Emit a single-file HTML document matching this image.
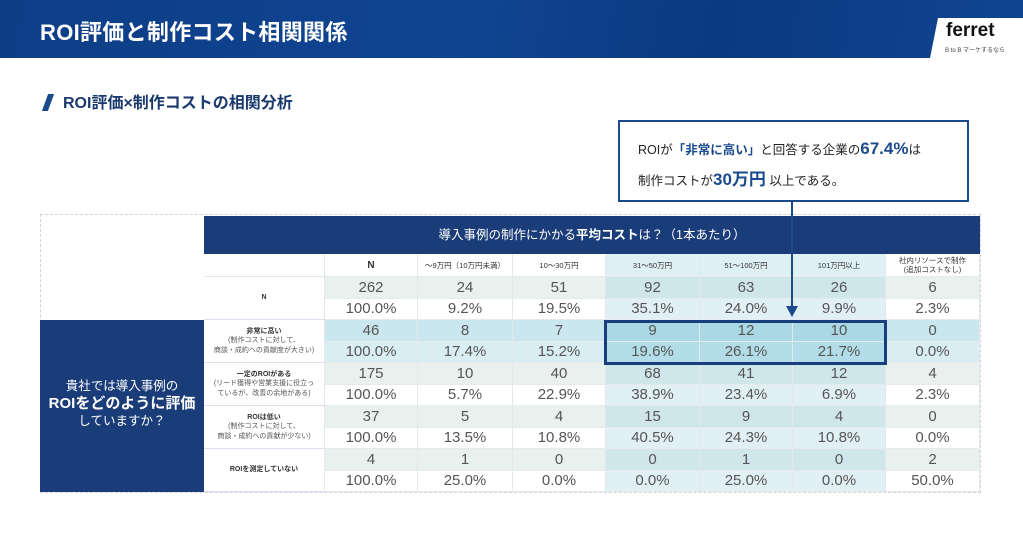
<!DOCTYPE html>
<html><head><meta charset="utf-8"><style>
*{margin:0;padding:0;box-sizing:border-box}
body{width:1023px;height:553px;background:#fff;position:relative;overflow:hidden;font-family:"Liberation Sans","Noto Sans CJK JP",sans-serif}
.hdr{position:absolute;left:0;top:0;width:1023px;height:58px;background:linear-gradient(100deg,#0e3d86 0%,#0f4592 45%,#0b3a80 70%,#0f4592 100%)}
.hdr h1{position:absolute;left:40px;top:15px;color:#fff;font-size:22px;font-weight:bold;letter-spacing:0.3px}
.logo{position:absolute;left:930px;top:18px;width:93px;height:40px;background:#fff;clip-path:polygon(8px 0,100% 0,100% 100%,0 100%)}
.logo b{position:absolute;left:16px;top:2px;font-size:19px;color:#111}
.logo i{position:absolute;left:15px;top:27px;font-size:6px;color:#444;font-style:normal}
.sub{position:absolute;left:45px;top:89px;font-size:16px;font-weight:bold;color:#1a3a6e}
.sub span{display:inline-block;width:6px;height:17px;background:#1a4a8c;transform:skewX(-20deg);margin-right:12px;vertical-align:-3px}
.call{position:absolute;left:618px;top:120px;width:351px;height:82px;border:2px solid #1a4a8c;background:#fff;font-size:12.5px;color:#222;padding:12px 0 0 18px;line-height:29px}
.call b{color:#1a4a8c}
.big{font-size:17px}
.arrow{position:absolute;left:791px;top:202px;width:2px;height:108px;background:#1a4a8c;z-index:5}
.ahead{position:absolute;left:786px;top:306px;width:0;height:0;border-left:6px solid transparent;border-right:6px solid transparent;border-top:11px solid #1a4a8c;z-index:5}
.outer{position:absolute;left:40px;top:214px;width:941px;height:279px;border:1px dashed #cfd4da}
.th{position:absolute;left:204px;top:216px;width:776px;height:38px;background:#1a3d79;color:#fff;font-size:12.5px;text-align:center;line-height:38px}
.q{position:absolute;left:40px;top:320px;width:164px;height:172px;background:#1a3d79;color:#fff;font-size:12.5px;text-align:center;padding-top:58px;line-height:17px}
.q b{font-size:15px}
.g{position:absolute;left:204px;top:254px;display:grid;grid-template-columns:121px 93px 95px 93px 94px 93px 93px 94px;grid-template-rows:23px repeat(10,21.5px)}
.g>div{display:flex;align-items:center;justify-content:center;text-align:center;font-size:15px;color:#555;border-right:1px solid #e4e8ea;border-bottom:1px solid #e6eaec}
.g .h{font-size:7.5px;color:#333;background:#fff;line-height:9px}
.g .hb{background:#dff0f4}
.g .l{grid-row:span 2;font-size:7px;color:#555;background:#fff;line-height:9.5px;border-bottom:1px solid #dde}
.g .l b{color:#333}
.c{background:#e9f1ef}
.p{background:#fff}
.cb{background:#cfe6eb}
.pb{background:#e0f0f4}
.r1{background:#cae6ee}
.r2{background:#d8eef3}
.hl{background:#aad9e5}
.hl2{background:#b2dde8}
.box{position:absolute;left:604px;top:320px;width:283px;height:45px;border:3px solid #173f7e}
</style></head><body>
<div class="hdr"><h1>ROI評価と制作コスト相関関係</h1><div class="logo"><b>ferret</b><i>B to B マーケするなら</i></div></div>
<div class="sub"><span></span>ROI評価×制作コストの相関分析</div>
<div class="call">ROIが<b>「非常に高い」</b>と回答する企業の<b class="big">67.4%</b>は<br>制作コストが<b class="big">30万円</b> 以上である。</div>
<div class="arrow"></div><div class="ahead"></div>
<div class="outer"></div>
<div class="th">導入事例の制作にかかる<b>平均コスト</b>は？（1本あたり）</div>
<div class="q">貴社では導入事例の<br><b>ROIをどのように評価</b><br>していますか？</div>
<div class="g">
<div class="h"></div><div class="h" style="font-size:10px"><b>N</b></div><div class="h">～9万円（10万円未満）</div><div class="h">10～30万円</div><div class="h hb">31～50万円</div><div class="h hb">51～100万円</div><div class="h hb">101万円以上</div><div class="h"><span>社内リソースで制作<br>(追加コストなし)</span></div>

<div class="l"><span><b>N</b></span></div><div class="c">262</div><div class="c">24</div><div class="c">51</div><div class="cb">92</div><div class="cb">63</div><div class="cb">26</div><div class="c">6</div>
<div class="p">100.0%</div><div class="p">9.2%</div><div class="p">19.5%</div><div class="pb">35.1%</div><div class="pb">24.0%</div><div class="pb">9.9%</div><div class="p">2.3%</div>

<div class="l"><span><b>非常に高い</b><br>(制作コストに対して、<br>商談・成約への貢献度が大きい)</span></div><div class="r1">46</div><div class="r1">8</div><div class="r1">7</div><div class="hl">9</div><div class="hl">12</div><div class="hl">10</div><div class="r1">0</div>
<div class="r2">100.0%</div><div class="r2">17.4%</div><div class="r2">15.2%</div><div class="hl2">19.6%</div><div class="hl2">26.1%</div><div class="hl2">21.7%</div><div class="r2">0.0%</div>

<div class="l"><span><b>一定のROIがある</b><br>(リード獲得や営業支援に役立っ<br>ているが、改善の余地がある)</span></div><div class="c">175</div><div class="c">10</div><div class="c">40</div><div class="cb">68</div><div class="cb">41</div><div class="cb">12</div><div class="c">4</div>
<div class="p">100.0%</div><div class="p">5.7%</div><div class="p">22.9%</div><div class="pb">38.9%</div><div class="pb">23.4%</div><div class="pb">6.9%</div><div class="p">2.3%</div>

<div class="l"><span><b>ROIは低い</b><br>(制作コストに対して、<br>商談・成約への貢献が少ない)</span></div><div class="c">37</div><div class="c">5</div><div class="c">4</div><div class="cb">15</div><div class="cb">9</div><div class="cb">4</div><div class="c">0</div>
<div class="p">100.0%</div><div class="p">13.5%</div><div class="p">10.8%</div><div class="pb">40.5%</div><div class="pb">24.3%</div><div class="pb">10.8%</div><div class="p">0.0%</div>

<div class="l"><span><b>ROIを測定していない</b></span></div><div class="c">4</div><div class="c">1</div><div class="c">0</div><div class="cb">0</div><div class="cb">1</div><div class="cb">0</div><div class="c">2</div>
<div class="p">100.0%</div><div class="p">25.0%</div><div class="p">0.0%</div><div class="pb">0.0%</div><div class="pb">25.0%</div><div class="pb">0.0%</div><div class="p">50.0%</div>
</div>
<div class="box"></div>
</body></html>
